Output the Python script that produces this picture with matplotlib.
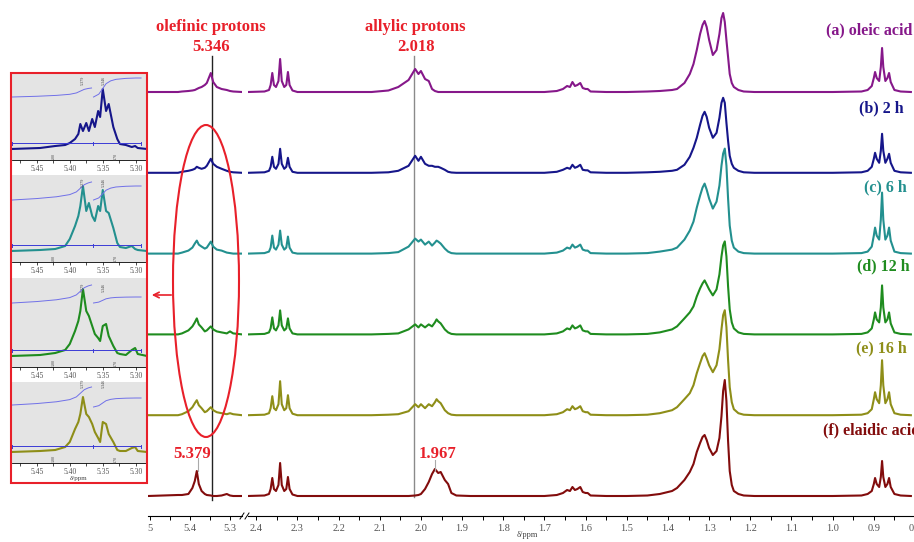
import numpy as np
import matplotlib.pyplot as plt
from matplotlib.patches import Ellipse, Rectangle

plt.rcParams['font.family'] = ['Liberation Serif', 'DejaVu Serif']

# ---------------- data (heights, arbitrary units) ----------------
SAMPLES = ['(a) oleic acid', '(b) 2 h', '(c) 6 h', '(d) 12 h', '(e) 16 h', '(f) elaidic acid']
COLORS = ['#86188a', '#16168a', '#23908f', '#1f8c1f', '#8e8e18', '#820c0c']

# olefinic region (left segment)
OLEF_PPM = [5.505, 5.430, 5.420, 5.404, 5.394, 5.388, 5.383, 5.378, 5.371, 5.363,
            5.358, 5.348, 5.342, 5.333, 5.321, 5.308, 5.300, 5.292, 5.270]
OLEF_H = [
    [0, 0, 0.5, 1, 1.5, 2, 3, 4, 5, 7, 9, 19, 10, 5, 3, 2, 1, 0.5, 0],
    [0, 0, 1, 2, 3, 4, 6, 5, 4, 5, 7, 14, 9, 6, 4, 2, 1, 0.5, 0],
    [0, 0, 1, 3, 6, 10, 13, 9, 7, 5, 6, 12, 7, 4, 3, 1, 0.5, 0, 0],
    [0, 0, 1, 4, 8, 12, 16, 10, 7, 3, 4, 8, 5, 3, 2, 1, 3, 1, 0],
    [0, 0, 1, 4, 8, 12, 15, 10, 7, 3, 4, 8, 5, 3, 2, 1, 2, 1, 0],
    [0, 1, 1, 2, 8, 15, 25, 12, 5, 2, 1, 0.5, 0, 0, 0.5, 2, 0.5, 0, 0],
]

# CH2-COOH triplet
TRIP_PPM = [2.420, 2.380, 2.369, 2.365, 2.361, 2.357, 2.352, 2.346, 2.342, 2.338,
            2.332, 2.327, 2.323, 2.319, 2.312, 2.300]
TRIP_H = [
    [0, 0.5, 2, 7, 19, 7, 5, 11, 33, 11, 5, 7, 20, 7, 1.5, 0],
    [0, 0.5, 2, 6, 16, 6, 4, 9, 24, 9, 4, 6, 15, 6, 1, 0],
    [0, 0.5, 2, 6, 18, 6, 4, 9, 23, 9, 4, 6, 17, 6, 1, 0],
    [0, 0.5, 2, 6, 17, 6, 4, 9, 24, 9, 4, 6, 16, 6, 1, 0],
    [0, 0.5, 2, 7, 19, 7, 5, 11, 34, 11, 5, 7, 20, 7, 1.5, 0],
    [0, 0.5, 2, 7, 18, 7, 5, 11, 33, 11, 5, 7, 19, 7, 1.5, 0],
]

# allylic protons
ALLYL_PPM = [2.120, 2.079, 2.055, 2.030, 2.014, 2.006, 2.000, 1.990, 1.981, 1.973,
             1.966, 1.962, 1.958, 1.952, 1.942, 1.934, 1.926, 1.914, 1.880]
ALLYL_H = [
    [0, 1.5, 5, 12, 23, 18, 21, 13, 11, 3, 1, 0.5, 0, 0, 0, 0, 0, 0, 0],
    [0, 0.5, 2, 7, 17, 12, 16, 9, 7, 7, 6, 6, 6, 5, 3, 1, 0.3, 0, 0],
    [0, 0.5, 1.5, 7, 15, 12, 14, 9, 12, 8, 11, 13, 12, 10, 5, 2, 0.5, 0, 0],
    [0, 0.5, 1, 5, 10, 7, 10, 7, 10, 8, 12, 15, 13, 11, 5, 2, 0.5, 0, 0],
    [0, 0.5, 1, 4, 11, 8, 11, 7, 11, 9, 13, 16, 14, 12, 5, 2, 0.5, 0, 0],
    [0, 0, 0, 0, 0.5, 1, 2, 7, 14, 22, 27, 25, 23, 24, 16, 12, 3, 0.5, 0],
]

# beta-CH2 multiplet
MULT_PPM = [1.700, 1.670, 1.655, 1.645, 1.638, 1.632, 1.626, 1.620, 1.613, 1.607,
            1.600, 1.595, 1.588, 1.550]
MULT_H = [
    [0, 1, 3, 6, 5, 10, 6, 7, 9, 4, 3, 3, 0.5, 0],
    [0, 1, 3, 5, 4, 8, 5, 6, 8, 3, 2.5, 2.5, 0.5, 0],
    [0, 1, 3, 6, 5, 9, 6, 7, 9, 4, 3, 3, 0.5, 0],
    [0, 1, 3, 6, 5, 9, 6, 7, 9, 4, 3, 3, 0.5, 0],
    [0, 1, 3, 6, 5, 9, 6, 7, 9, 4, 3, 3, 0.5, 0],
    [0, 1, 3, 6, 5, 9, 6, 7, 9, 4, 3, 3, 0.5, 0],
]

# chain CH2 envelope
CH2_PPM = [1.500, 1.450, 1.420, 1.390, 1.378, 1.360, 1.347, 1.338, 1.330, 1.322,
           1.316, 1.311, 1.306, 1.300, 1.291, 1.282, 1.275, 1.270, 1.266, 1.262,
           1.258, 1.254, 1.250, 1.245, 1.240, 1.229, 1.216, 1.190, 1.100]
CH2_H = [
    [0, 0.5, 1, 2, 3, 9, 18, 28, 42, 58, 67, 71, 65, 52, 37, 42, 58, 74, 79, 70, 52, 35, 18, 9, 5, 2, 0.5, 0, 0],
    [0, 0.5, 1, 2, 3, 8, 16, 25, 35, 48, 57, 61, 56, 45, 35, 40, 55, 70, 75, 70, 50, 32, 17, 9, 5, 2, 0.5, 0, 0],
    [0, 0.5, 2, 4, 6, 14, 23, 32, 46, 58, 66, 70, 64, 55, 45, 52, 68, 88, 100, 105, 88, 55, 28, 13, 6, 2, 0.5, 0, 0],
    [0, 0.5, 2, 5, 8, 16, 22, 28, 38, 46, 51, 54, 50, 45, 39, 45, 60, 78, 89, 93, 78, 48, 25, 12, 6, 2, 0.5, 0, 0],
    [0, 0.5, 2, 5, 8, 16, 22, 30, 42, 52, 59, 62, 57, 50, 43, 50, 66, 86, 100, 105, 88, 55, 28, 13, 6, 2, 0.5, 0, 0],
    [0, 0.5, 2, 5, 8, 16, 24, 32, 44, 53, 59, 61, 56, 48, 41, 45, 58, 80, 105, 116, 95, 55, 25, 11, 5, 2, 0.5, 0, 0],
]

# terminal CH3 triplet
METH_PPM = [1.000, 0.930, 0.915, 0.905, 0.900, 0.897, 0.893, 0.887, 0.883, 0.880,
            0.877, 0.872, 0.867, 0.863, 0.859, 0.850, 0.835, 0.810]
METH_H = [
    [0, 0.5, 2, 6, 14, 20, 14, 11, 25, 44, 25, 11, 14, 19, 10, 2, 0.5, 0],
    [0, 0.5, 2, 6, 14, 20, 14, 10, 22, 39, 22, 10, 14, 19, 10, 2, 0.5, 0],
    [0, 0.5, 2, 7, 18, 26, 18, 14, 34, 61, 34, 14, 18, 26, 13, 2, 0.5, 0],
    [0, 0.5, 2, 6, 15, 22, 15, 12, 27, 49, 27, 12, 15, 22, 11, 2, 0.5, 0],
    [0, 0.5, 2, 6, 16, 23, 16, 12, 30, 55, 30, 12, 16, 23, 11, 2, 0.5, 0],
    [0, 0.5, 2, 5, 12, 18, 12, 9, 19, 35, 19, 9, 12, 18, 9, 2, 0.5, 0],
]

# inset: zoomed olefinic region for (b)-(e)
INSET_PPM = [5.489, 5.445, 5.422, 5.407, 5.400, 5.392, 5.387, 5.384, 5.380, 5.375,
             5.371, 5.366, 5.362, 5.357, 5.354, 5.350, 5.345, 5.341, 5.334, 5.328,
             5.324, 5.315, 5.306, 5.301, 5.297, 5.283]
INSET_H = [
    [0, 1, 3, 4, 6, 10, 15, 25, 18, 26, 18, 30, 22, 38, 32, 60, 38, 45, 22, 10, 5, 4, 2, 3, 1, 0],
    [0, 1, 2, 5, 12, 25, 35, 45, 65, 40, 48, 35, 30, 45, 40, 61, 40, 38, 23, 8, 4, 3, 5, 2, 1, 0],
    [0, 1, 3, 6, 12, 25, 35, 45, 67, 45, 40, 30, 22, 18, 15, 30, 32, 20, 10, 3, 2, 1, 6, 8, 2, 0],
    [0, 1, 2, 5, 10, 23, 30, 38, 55, 38, 35, 28, 20, 14, 10, 30, 28, 18, 10, 2, 1, 1, 4, 5, 1, 0],
]
INT1_PPM = [5.487, 5.45, 5.42, 5.40, 5.39, 5.384, 5.378, 5.372, 5.367]
INT1_FRAC = [0, 0.08, 0.18, 0.3, 0.45, 0.65, 0.85, 0.95, 1.0]
INT2_PPM = [5.364, 5.356, 5.350, 5.345, 5.338, 5.330, 5.315, 5.300, 5.292]
INT2_FRAC = [0, 0.15, 0.45, 0.7, 0.85, 0.93, 0.98, 1.0, 1.0]
INT1_Y = [(63, 72), (62, 80), (64, 82), (58, 76)]
INT2_Y = [(63, 82), (62, 76), (64, 70), (56, 65)]

# ---------------- layout helpers ----------------
W, H = 914, 542
RED = '#e8202a'


def px_rect(x0, y0, x1, y1):
    return [x0 / W, 1 - y1 / H, (x1 - x0) / W, (y1 - y0) / H]


fig = plt.figure(figsize=(W / 100, H / 100), dpi=100)

offsets = [20 + 80.8 * (5 - i) for i in range(6)]

axL = fig.add_axes(px_rect(148, 0, 242, 516))
axR = fig.add_axes(px_rect(248, 0, 915, 516))
for ax in (axL, axR):
    ax.set_ylim(0, 516)
    ax.patch.set_visible(False)
    for s in ('top', 'left', 'right'):
        ax.spines[s].set_visible(False)
    ax.spines['bottom'].set_linewidth(0.8)
    ax.tick_params(axis='y', left=False, labelleft=False)
    ax.tick_params(axis='x', which='both', direction='out', length=3, width=0.7,
                   labelsize=7.5, labelcolor='#555555', pad=3)

axL.set_xlim(5.505, 5.27)
axL.set_xticks([5.5, 5.4, 5.3])
axL.set_xticklabels(['5', '5.4', '5.3'])
axL.set_xticks([5.45, 5.35], minor=True)

axR.set_xlim(2.42, 0.81)
major = np.round(np.arange(0.8, 2.41, 0.1), 1)
axR.set_xticks(major)
axR.set_xticklabels(['%.1f' % v for v in major])
axR.set_xticks(np.round(major[:-1] + 0.05, 2), minor=True)

right_ppm = TRIP_PPM + ALLYL_PPM + MULT_PPM + CH2_PPM + METH_PPM
for i in range(6):
    axL.plot(OLEF_PPM, np.array(OLEF_H[i]) + offsets[i], color=COLORS[i], lw=1.5,
             solid_joinstyle='round')
    h = TRIP_H[i] + ALLYL_H[i] + MULT_H[i] + CH2_H[i] + METH_H[i]
    axR.plot(right_ppm, np.array(h) + offsets[i], color=COLORS[i], lw=1.5,
             solid_joinstyle='round')

# reference lines
axL.plot([5.346, 5.346], [16, 460], color='#222222', lw=1.0, zorder=0)
axR.plot([2.018, 2.018], [19, 460], color='#8a8a8a', lw=1.0, zorder=0)
axL.plot([5.381, 5.381], [45, 58], color='#aaaaaa', lw=0.8)
axR.plot([1.966, 1.966], [46, 56], color='#aaaaaa', lw=0.8)

# ---------------- inset panels ----------------
PANEL_TOP = [73, 175, 278, 382]
PANEL_BOT = [160, 262, 367, 463]
for k in range(4):
    ai = fig.add_axes(px_rect(12, PANEL_TOP[k], 146, PANEL_BOT[k]))
    ai.set_facecolor('#e4e4e4')
    ai.set_xlim(5.4875, 5.2845)
    ai.set_ylim(0, PANEL_BOT[k] - PANEL_TOP[k])
    for s in ('top', 'left', 'right'):
        ai.spines[s].set_visible(False)
    ai.spines['bottom'].set_linewidth(0.6)
    ai.set_yticks([])
    ai.set_xticks([5.45, 5.40, 5.35, 5.30])
    ai.set_xticklabels(['5.45', '5.40', '5.35', '5.30'])
    ai.set_xticks([5.475, 5.425, 5.375, 5.325], minor=True)
    ai.tick_params(axis='x', which='both', direction='out', length=2, width=0.5,
                   labelsize=5.5, labelcolor='#555555', pad=1.5)
    ai.plot(INSET_PPM, np.array(INSET_H[k]) + 11, color=COLORS[k + 1], lw=1.5)
    # integration baseline and curves
    ai.plot([5.487, 5.292], [17, 17], color='#3b3bd6', lw=0.7)
    for p in (5.487, 5.365, 5.292):
        ai.plot([p, p], [15.5, 18.5], color='#3b3bd6', lw=0.7)
    y0, y1 = INT1_Y[k]
    ai.plot(INT1_PPM, y0 + np.array(INT1_FRAC) * (y1 - y0), color='#7070e8', lw=0.7)
    y0, y1 = INT2_Y[k]
    ai.plot(INT2_PPM, y0 + np.array(INT2_FRAC) * (y1 - y0), color='#7070e8', lw=0.7)
    ai.text(5.38, 80, '5.379', rotation=90, fontsize=3, color='#444444', ha='center', va='center')
    ai.text(5.349, 80, '5.346', rotation=90, fontsize=3, color='#444444', ha='center', va='center')
    ai.text(5.425, 4, '1.00', rotation=90, fontsize=3, color='#444444', ha='center', va='center')
    ai.text(5.33, 4, '0.70', rotation=90, fontsize=3, color='#444444', ha='center', va='center')
    if k == 3:
        ai.set_xlabel('δ/ppm', fontsize=5, labelpad=0, color='#444444')

# ---------------- overlay for annotations ----------------
ov = fig.add_axes([0, 0, 1, 1])
ov.set_xlim(0, W)
ov.set_ylim(H, 0)
ov.axis('off')

ov.add_patch(Rectangle((11, 73), 136, 410, fill=False, ec=RED, lw=1.5))
ov.add_patch(Ellipse((206, 281), 66, 312, fill=False, ec=RED, lw=1.5))
ov.annotate('', xy=(149, 295), xytext=(174, 295),
            arrowprops=dict(arrowstyle='->', color=RED, lw=1.2))

# axis break marks
ov.plot([240, 244], [519, 513], color='k', lw=0.7)
ov.plot([245, 249], [519, 513], color='k', lw=0.7)

bold = dict(fontsize=12, fontweight='bold', ha='center', va='center', color=RED)
ov.text(211, 27, 'olefinic protons', **bold)
ov.text(211, 47, '5.346', **bold)
ov.text(415, 27, 'allylic protons', **bold)
ov.text(416, 47, '2.018', **bold)
ov.text(192, 454, '5.379', **bold)
ov.text(438, 454, '1.967', **bold)

LABEL_XY = [(912, 30), (904, 108), (907, 187), (910, 266), (907, 348), (920, 430)]
for i, name in enumerate(SAMPLES):
    ov.text(LABEL_XY[i][0], LABEL_XY[i][1], name, fontsize=11.5, fontweight='bold',
            ha='right', va='center', color=COLORS[i])

ov.text(527, 535, 'δ/ppm', fontsize=6, color='#444444', ha='center', va='center')

fig.savefig('out.png', dpi=100)
